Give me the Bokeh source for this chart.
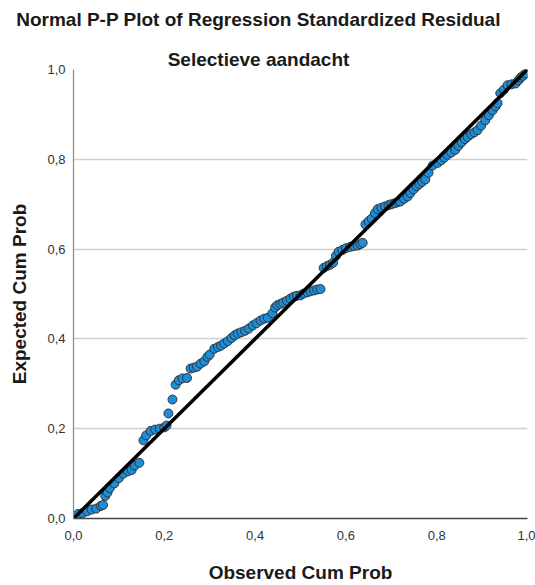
from bokeh.plotting import figure
from bokeh.models import LinearAxis, FixedTicker, CustomJSTickFormatter, Range1d
from bokeh.embed import file_html
from bokeh.resources import INLINE

# Observed cumulative probability (x) and expected cumulative probability (y)
observed = [0.000, 0.010, 0.020, 0.030, 0.040, 0.050, 0.060, 0.065, 0.070, 0.075,
            0.080, 0.090, 0.100, 0.110, 0.120, 0.128, 0.135, 0.145, 0.154, 0.160,
            0.170, 0.180, 0.190, 0.200, 0.205, 0.209, 0.218, 0.225, 0.232, 0.240,
            0.250, 0.258, 0.265, 0.272, 0.280, 0.288, 0.295, 0.300, 0.310, 0.318,
            0.325, 0.332, 0.340, 0.348, 0.355, 0.362, 0.370, 0.378, 0.386, 0.395,
            0.403, 0.412, 0.420, 0.428, 0.438, 0.444, 0.449, 0.456, 0.462, 0.470,
            0.478, 0.485, 0.492, 0.500, 0.507, 0.515, 0.522, 0.530, 0.537, 0.544,
            0.551, 0.558, 0.565, 0.572, 0.578, 0.584, 0.592, 0.600, 0.610, 0.618,
            0.626, 0.632, 0.637, 0.643, 0.650, 0.657, 0.664, 0.670, 0.678, 0.686,
            0.694, 0.700, 0.708, 0.715, 0.720, 0.728, 0.736, 0.742, 0.749, 0.756,
            0.762, 0.768, 0.775, 0.782, 0.791, 0.802, 0.810, 0.817, 0.824, 0.832,
            0.841, 0.848, 0.855, 0.862, 0.868, 0.876, 0.883, 0.890, 0.898, 0.907,
            0.915, 0.923, 0.930, 0.934, 0.940, 0.948, 0.956, 0.965, 0.974, 0.980,
            0.985, 0.990, 0.996]
expected = [0.005, 0.010, 0.012, 0.016, 0.020, 0.022, 0.028, 0.030, 0.050, 0.058,
            0.068, 0.078, 0.090, 0.100, 0.105, 0.108, 0.118, 0.124, 0.174, 0.185,
            0.195, 0.198, 0.200, 0.203, 0.207, 0.234, 0.265, 0.298, 0.308, 0.312,
            0.313, 0.334, 0.336, 0.338, 0.345, 0.350, 0.360, 0.365, 0.378, 0.382,
            0.385, 0.390, 0.395, 0.402, 0.408, 0.412, 0.415, 0.418, 0.423, 0.430,
            0.435, 0.441, 0.445, 0.447, 0.457, 0.470, 0.475, 0.478, 0.481, 0.485,
            0.490, 0.494, 0.496, 0.497, 0.501, 0.504, 0.506, 0.508, 0.510, 0.511,
            0.558, 0.562, 0.565, 0.570, 0.585, 0.594, 0.598, 0.602, 0.605, 0.607,
            0.608, 0.611, 0.614, 0.655, 0.662, 0.668, 0.680, 0.689, 0.692, 0.695,
            0.698, 0.700, 0.702, 0.705, 0.706, 0.712, 0.717, 0.725, 0.733, 0.740,
            0.745, 0.750, 0.755, 0.770, 0.786, 0.792, 0.798, 0.804, 0.810, 0.815,
            0.821, 0.830, 0.838, 0.845, 0.850, 0.856, 0.860, 0.865, 0.875, 0.887,
            0.898, 0.909, 0.918, 0.925, 0.947, 0.955, 0.965, 0.967, 0.969, 0.976,
            0.982, 0.986, 0.991]

ref_x = [0.0, 1.0]
ref_y = [0.0, 1.0]
tick_values = [0.0, 0.2, 0.4, 0.6, 0.8, 1.0]

title_text = "Normal P-P Plot of Regression Standardized Residual"
subtitle_text = "Selectieve aandacht"

FONT = "Liberation Sans"

p = figure(width=535, height=585, output_backend="svg", toolbar_location=None,
           x_range=Range1d(0, 1), y_range=Range1d(0, 1),
           min_border_left=73, min_border_right=8, min_border_top=69,
           min_border_bottom=63)
p.title.visible = False

bottom_axis = p.below[0]
left_axis = p.left[0]

fmt = CustomJSTickFormatter(code="return tick.toFixed(1).replace('.', ',');")
for ax in (bottom_axis, left_axis):
    ax.ticker = FixedTicker(ticks=tick_values, minor_ticks=[])
    ax.formatter = fmt
    ax.major_tick_out = 0
    ax.major_tick_in = 0
    ax.minor_tick_out = 0
    ax.minor_tick_in = 0
    ax.major_label_text_font = FONT
    ax.major_label_text_font_size = "13px"
    ax.major_label_text_color = "#333333"
    ax.axis_label_text_font = FONT
    ax.axis_label_text_font_size = "19px"
    ax.axis_label_text_font_style = "bold"
    ax.axis_label_text_color = "#1a1a1a"

bottom_axis.axis_label = "Observed Cum Prob"
left_axis.axis_label = "Expected Cum Prob"
bottom_axis.axis_line_color = "#444444"
bottom_axis.axis_line_width = 1.5
left_axis.axis_line_color = "#888888"
left_axis.axis_line_width = 1.2
bottom_axis.major_label_standoff = 12
left_axis.major_label_standoff = 8
bottom_axis.axis_label_standoff = 19
left_axis.axis_label_standoff = 14


def heading_axis(text, standoff):
    # an unlined axis above the frame whose single label carries a heading
    ax = LinearAxis(ticker=FixedTicker(ticks=[0.4075], minor_ticks=[]),
                    formatter=CustomJSTickFormatter(args=dict(t=text), code="return t;"))
    ax.axis_line_color = None
    ax.major_tick_line_color = None
    ax.minor_tick_line_color = None
    ax.major_tick_out = 0
    ax.major_tick_in = 0
    ax.minor_tick_out = 0
    ax.minor_tick_in = 0
    ax.major_label_standoff = standoff
    ax.major_label_text_font = FONT
    ax.major_label_text_font_size = "19px"
    ax.major_label_text_font_style = "bold"
    ax.major_label_text_color = "#1a1a1a"
    return ax


p.add_layout(heading_axis(subtitle_text, 0), "above")
p.add_layout(heading_axis(title_text, 16), "above")

p.outline_line_color = None
p.xgrid.grid_line_color = None
p.ygrid.grid_line_color = "#d0d0d0"
p.ygrid.grid_line_width = 1.5

p.scatter(observed, expected, size=9, marker="circle",
          fill_color="#1f8dd6", line_color="#2a2a2a", line_width=0.9)
p.line(ref_x, ref_y, line_color="black", line_width=3.5)

open("out.html", "w").write(file_html(p, INLINE))
